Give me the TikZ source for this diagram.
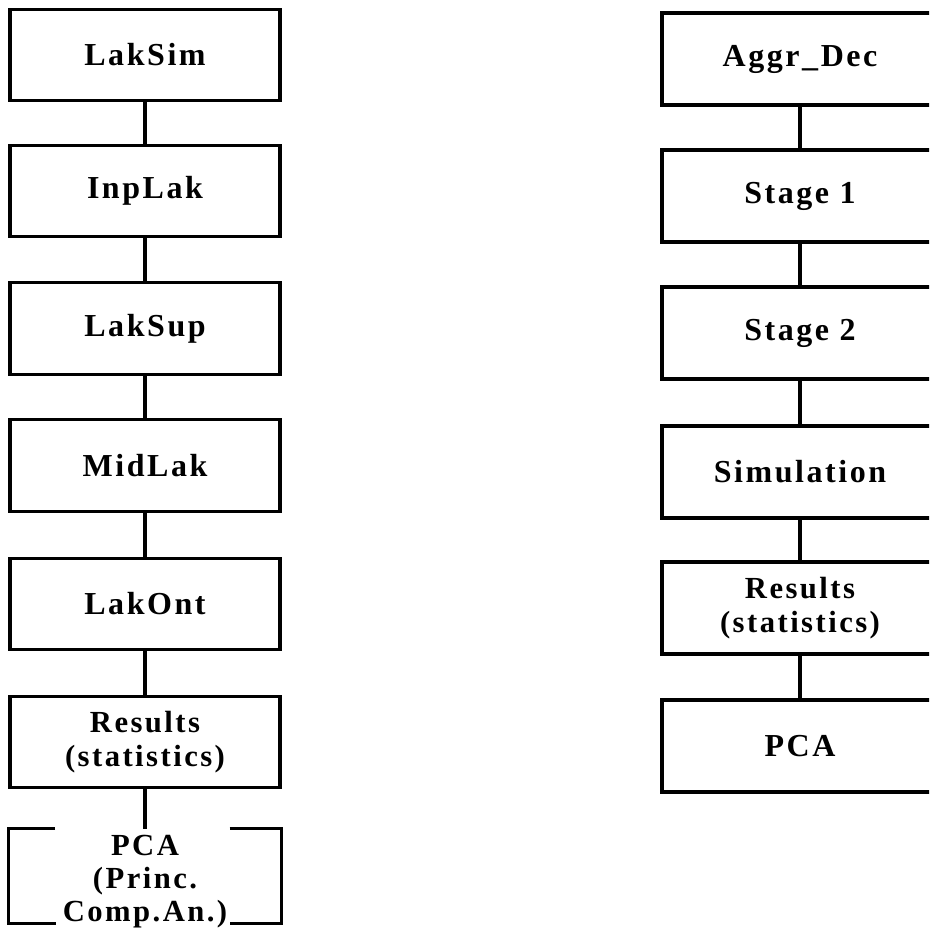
\documentclass[tikz,border=0pt]{standalone}
\usepackage{fontspec}
\setmainfont{Liberation Serif}[LetterSpace=8]
\usepackage{tikz}

\tikzset{
  modbox/.style={draw, line width=2.4pt, minimum width=202.5pt, minimum height=68.5pt,
    inner sep=0pt, align=center, font=\fontsize{24}{25.5}\selectfont\bfseries},
  stagebox/.style={modbox, minimum width=207pt, minimum height=69pt},
  twoline/.style={font=\fontsize{23}{25.5}\selectfont\bfseries},
  wire/.style={draw, line width=2.4pt},
}

\begin{document}
\begin{tikzpicture}[x=0.75pt,y=0.75pt,yscale=-1,xscale=1]
\clip (0,0) rectangle (929,930);

% left chain
\node [modbox] (lsim) at (145,55) {LakSim};
\node [modbox] (linp) at (145,191) {InpLak};
\node [modbox] (lsup) at (145,328.5) {LakSup};
\node [modbox] (lmid) at (145,465.5) {MidLak};
\node [modbox] (lont) at (145,604) {LakOnt};
\node [modbox, twoline] (lres) at (145,742) {Results\\(statistics)};
\node [modbox, draw=none] (lpca) at (145,876) {};
\node [anchor=north, inner sep=0pt, align=center, font=\fontsize{23}{24.75}\selectfont\bfseries] (lpcatxt) at (145,835) {PCA\\(Princ.\\Comp.An.)};

% open frame round the PCA text
\draw [line width=2.4pt] ([xshift=35pt]lpca.north west) -- (lpca.north west) -- (lpca.south west) -- ([xshift=36pt]lpca.south west);
\draw [line width=2.4pt] ([xshift=-39pt]lpca.north east) -- (lpca.north east) -- (lpca.south east) -- ([xshift=-39pt]lpca.south east);

\draw [wire] (lsim) -- (linp);
\draw [wire] (linp) -- (lsup);
\draw [wire] (lsup) -- (lmid);
\draw [wire] (lmid) -- (lont);
\draw [wire] (lont) -- (lres);
\draw [wire] (lres) -- (lpca);

% right chain
\node [stagebox] (aggr) at (800,59) {Aggr\_Dec};
\node [stagebox] (st1) at (800,196) {Stage 1};
\node [stagebox] (st2) at (800,333) {Stage 2};
\node [stagebox] (simu) at (800,472) {Simulation};
\node [stagebox, twoline] (rres) at (800,608) {Results\\(statistics)};
\node [stagebox] (rpca) at (800,746) {PCA};

\draw [wire] (aggr) -- (st1);
\draw [wire] (st1) -- (st2);
\draw [wire] (st2) -- (simu);
\draw [wire] (simu) -- (rres);
\draw [wire] (rres) -- (rpca);

\end{tikzpicture}
\end{document}
